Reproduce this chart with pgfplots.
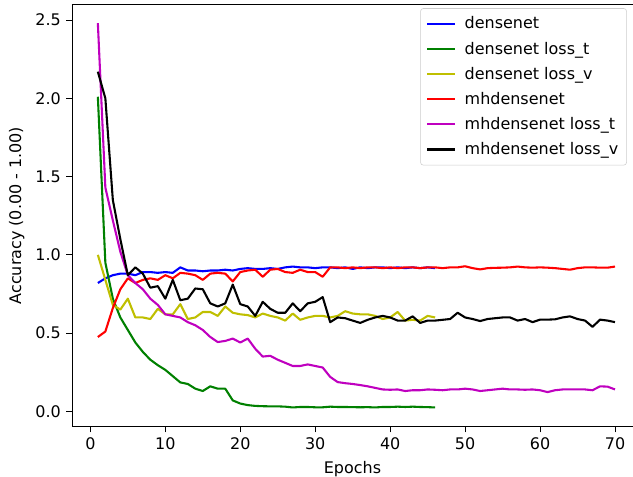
\documentclass[border=0pt]{standalone}
\usepackage{fontspec}
\setmainfont{DejaVu Sans}
\usepackage{pgfplots}
\pgfplotsset{compat=1.18}
\usetikzlibrary{calc}
\definecolor{mplb}{rgb}{0,0,1}
\definecolor{mplg}{rgb}{0,0.5,0}
\definecolor{mply}{rgb}{0.75,0.75,0}
\definecolor{mplr}{rgb}{1,0,0}
\definecolor{mplm}{rgb}{0.75,0,0.75}
\definecolor{mplk}{rgb}{0,0,0}
\begin{document}
\fontsize{11.5}{13.8}\selectfont
\begin{tikzpicture}
\begin{axis}[
  scale only axis,
  width=403.92pt, height=304.06pt,
  xmin=-2.45, xmax=72.4,
  ymin=-0.098, ymax=2.6,
  axis x line*=box, axis y line*=left,
  xtick pos=bottom, ytick pos=left,
  xtick={0,10,...,70},
  ytick={0,0.5,1,1.5,2,2.5},
  yticklabel style={/pgf/number format/.cd,fixed,fixed zerofill,precision=1},
  /pgf/number format/assume math mode=true,
  tick align=outside,
  major tick length=4pt,
  tick style={black, line width=0.7pt},
  axis line style={black, line width=0.7pt},
  ticklabel style={font=\fontsize{11.5}{13.8}\selectfont},
  label style={font=\fontsize{11.5}{13.8}\selectfont},
  xlabel={Epochs},
  ylabel={Accuracy (0.00 - 1.00)},
  every axis plot/.append style={line width=1.5pt, mark=none, line join=round},
  legend cell align=left,
  legend image code/.code={\draw[#1] (0pt,0pt) -- (20pt,0pt);},
  legend style={at={(0.989,0.991)}, anchor=north east, draw=black!20, rounded corners=2pt,
    fill=white, fill opacity=0.8, text opacity=1, draw opacity=1,
    font=\fontsize{11.5}{13.8}\selectfont, row sep=3.6pt, inner xsep=4pt, inner ysep=4pt,
    /tikz/every odd column/.append style={column sep=4.3pt}},
]
\addplot[mplb] coordinates {
(1,0.82)(2,0.85)(3,0.87)(4,0.88)(5,0.88)(6,0.87)(7,0.89)(8,0.89)(9,0.885)(10,0.89)
(11,0.885)(12,0.92)(13,0.90)(14,0.90)(15,0.895)(16,0.90)(17,0.90)(18,0.905)(19,0.90)(20,0.91)
(21,0.915)(22,0.91)(23,0.91)(24,0.915)(25,0.91)(26,0.92)(27,0.925)(28,0.92)(29,0.92)(30,0.915)
(31,0.92)(32,0.92)(33,0.915)(34,0.92)(35,0.91)(36,0.92)(37,0.915)(38,0.92)(39,0.92)(40,0.915)
(41,0.92)(42,0.915)(43,0.92)(44,0.915)(45,0.92)(46,0.915)};
\addlegendentry{densenet}
\addplot[mplg] coordinates {
(1,2.01)(2,0.95)(3,0.72)(4,0.60)(5,0.52)(6,0.44)(7,0.38)(8,0.33)(9,0.295)(10,0.265)
(11,0.225)(12,0.185)(13,0.175)(14,0.145)(15,0.13)(16,0.16)(17,0.145)(18,0.145)(19,0.07)(20,0.05)
(21,0.04)(22,0.035)(23,0.033)(24,0.032)(25,0.032)(26,0.03)(27,0.025)(28,0.028)(29,0.028)(30,0.026)
(31,0.026)(32,0.03)(33,0.028)(34,0.028)(35,0.027)(36,0.026)(37,0.027)(38,0.025)(39,0.028)(40,0.028)
(41,0.03)(42,0.028)(43,0.03)(44,0.028)(45,0.027)(46,0.025)};
\addlegendentry{densenet loss\_t}
\addplot[mply] coordinates {
(1,1.00)(2,0.84)(3,0.68)(4,0.65)(5,0.72)(6,0.60)(7,0.60)(8,0.59)(9,0.655)(10,0.62)
(11,0.62)(12,0.685)(13,0.59)(14,0.60)(15,0.635)(16,0.635)(17,0.61)(18,0.67)(19,0.63)(20,0.62)
(21,0.615)(22,0.60)(23,0.625)(24,0.61)(25,0.60)(26,0.58)(27,0.625)(28,0.585)(29,0.60)(30,0.61)
(31,0.61)(32,0.60)(33,0.61)(34,0.64)(35,0.625)(36,0.62)(37,0.62)(38,0.61)(39,0.59)(40,0.60)
(41,0.635)(42,0.58)(43,0.585)(44,0.58)(45,0.61)(46,0.60)};
\addlegendentry{densenet loss\_v}
\addplot[mplr] coordinates {
(1,0.475)(2,0.51)(3,0.66)(4,0.78)(5,0.85)(6,0.82)(7,0.84)(8,0.85)(9,0.84)(10,0.87)
(11,0.85)(12,0.885)(13,0.88)(14,0.87)(15,0.84)(16,0.88)(17,0.885)(18,0.88)(19,0.83)(20,0.89)
(21,0.90)(22,0.905)(23,0.86)(24,0.905)(25,0.91)(26,0.89)(27,0.885)(28,0.905)(29,0.89)(30,0.89)
(31,0.86)(32,0.92)(33,0.92)(34,0.915)(35,0.92)(36,0.915)(37,0.92)(38,0.92)(39,0.915)(40,0.92)
(41,0.915)(42,0.92)(43,0.92)(44,0.915)(45,0.92)(46,0.92)(47,0.915)(48,0.92)(49,0.92)(50,0.927)
(51,0.915)(52,0.907)(53,0.915)(54,0.917)(55,0.918)(56,0.92)(57,0.925)(58,0.92)(59,0.918)(60,0.92)
(61,0.918)(62,0.915)(63,0.91)(64,0.905)(65,0.915)(66,0.92)(67,0.92)(68,0.918)(69,0.918)(70,0.925)};
\addlegendentry{mhdensenet}
\addplot[mplm] coordinates {
(1,2.48)(2,1.43)(3,1.22)(4,1.02)(5,0.87)(6,0.82)(7,0.78)(8,0.72)(9,0.68)(10,0.62)
(11,0.61)(12,0.60)(13,0.57)(14,0.55)(15,0.52)(16,0.475)(17,0.443)(18,0.45)(19,0.465)(20,0.44)
(21,0.465)(22,0.40)(23,0.35)(24,0.355)(25,0.33)(26,0.31)(27,0.29)(28,0.29)(29,0.30)(30,0.29)
(31,0.28)(32,0.22)(33,0.187)(34,0.18)(35,0.175)(36,0.168)(37,0.16)(38,0.15)(39,0.14)(40,0.138)
(41,0.14)(42,0.13)(43,0.135)(44,0.135)(45,0.14)(46,0.138)(47,0.135)(48,0.14)(49,0.14)(50,0.145)
(51,0.14)(52,0.13)(53,0.135)(54,0.14)(55,0.145)(56,0.14)(57,0.14)(58,0.138)(59,0.14)(60,0.135)
(61,0.123)(62,0.135)(63,0.14)(64,0.14)(65,0.14)(66,0.14)(67,0.135)(68,0.16)(69,0.158)(70,0.14)};
\addlegendentry{mhdensenet loss\_t}
\addplot[mplk] coordinates {
(1,2.17)(2,2.00)(3,1.35)(4,1.10)(5,0.87)(6,0.92)(7,0.88)(8,0.79)(9,0.80)(10,0.72)
(11,0.84)(12,0.71)(13,0.72)(14,0.785)(15,0.78)(16,0.69)(17,0.67)(18,0.69)(19,0.81)(20,0.685)
(21,0.67)(22,0.61)(23,0.70)(24,0.655)(25,0.63)(26,0.63)(27,0.69)(28,0.64)(29,0.69)(30,0.70)
(31,0.73)(32,0.57)(33,0.60)(34,0.595)(35,0.58)(36,0.565)(37,0.585)(38,0.60)(39,0.61)(40,0.60)
(41,0.58)(42,0.58)(43,0.607)(44,0.565)(45,0.58)(46,0.58)(47,0.585)(48,0.59)(49,0.63)(50,0.60)
(51,0.59)(52,0.577)(53,0.59)(54,0.595)(55,0.60)(56,0.60)(57,0.58)(58,0.59)(59,0.57)(60,0.586)
(61,0.586)(62,0.588)(63,0.60)(64,0.607)(65,0.59)(66,0.58)(67,0.54)(68,0.586)(69,0.58)(70,0.57)};
\addlegendentry{mhdensenet loss\_v}
\coordinate (ll) at (rel axis cs:0,0);
\coordinate (ur) at (rel axis cs:1,1);
\end{axis}
\pgfresetboundingbox
\path[use as bounding box] ($(ll)+(-51.84pt,-35.5pt)$) rectangle ($(ur)+(0pt,3.17pt)$);
\end{tikzpicture}
\end{document}
